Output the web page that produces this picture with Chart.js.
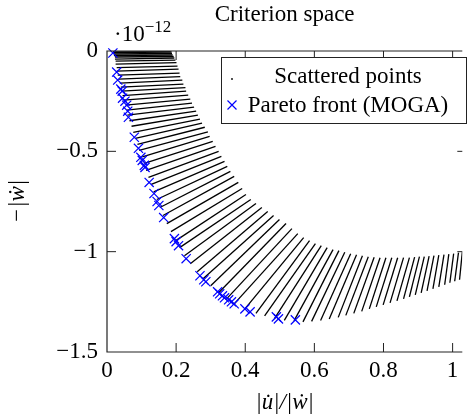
<!DOCTYPE html>
<html>
<head>
<meta charset="utf-8">
<script src="https://cdn.jsdelivr.net/npm/chart.js@4.4.1/dist/chart.umd.min.js"></script>
<style>
  html, body { margin: 0; padding: 0; background: #fff; }
</style>
</head>
<body>
<canvas id="chart" width="470" height="417"></canvas>
<script>
// axis ticks
const xTicks = [0, 0.2, 0.4, 0.6, 0.8, 1];
const xTickLabels = ['0', '0.2', '0.4', '0.6', '0.8', '1'];
const yTicks = [-1.5, -1, -0.5, 0];
const yTickLabels = ['\u22121.5', '\u22121', '\u22120.5', '0'];

// scattered points: each run of points read as a segment (start -> end)
const lineStartX = [0.017, 0.017, 0.020, 0.020, 0.023, 0.023, 0.025, 0.025, 0.028, 0.028,
  0.031, 0.034, 0.037, 0.040, 0.042, 0.045, 0.048, 0.054, 0.057, 0.059,
  0.065, 0.071, 0.076, 0.082, 0.088, 0.093, 0.102, 0.108, 0.113, 0.120,
  0.128, 0.135, 0.144, 0.153, 0.162, 0.173, 0.185, 0.199, 0.210, 0.224,
  0.241, 0.261, 0.278, 0.300, 0.323, 0.346, 0.368, 0.399, 0.431, 0.456,
  0.484, 0.513, 0.541, 0.567, 0.592, 0.618, 0.643, 0.669, 0.691, 0.714,
  0.737, 0.759, 0.779, 0.799, 0.819, 0.839, 0.858, 0.875, 0.892, 0.909,
  0.926, 0.943, 0.960, 0.977, 0.992, 1.006, 1.020];
const lineStartY = [0, -0.0075, -0.015, -0.0225, -0.03, -0.04, -0.05, -0.065, -0.0825, -0.10,
  -0.12, -0.14, -0.16, -0.18, -0.20, -0.2225, -0.245, -0.27, -0.295, -0.32,
  -0.3475, -0.375, -0.405, -0.435, -0.465, -0.495, -0.5275, -0.56, -0.595, -0.63,
  -0.665, -0.7025, -0.74, -0.78, -0.82, -0.86, -0.90, -0.945, -0.98, -1.02,
  -1.06, -1.10, -1.135, -1.17, -1.205, -1.235, -1.26, -1.285, -1.3075, -1.32,
  -1.335, -1.3425, -1.345, -1.35, -1.3475, -1.3425, -1.335, -1.3275, -1.3175, -1.3075,
  -1.2975, -1.285, -1.275, -1.265, -1.255, -1.245, -1.235, -1.225, -1.215, -1.205,
  -1.195, -1.185, -1.175, -1.165, -1.155, -1.1475, -1.14];
const lineEndX = [0.184, 0.187, 0.188, 0.190, 0.193, 0.195, 0.198, 0.201, 0.204, 0.207,
  0.210, 0.212, 0.218, 0.221, 0.227, 0.229, 0.235, 0.241, 0.246, 0.252,
  0.258, 0.263, 0.269, 0.275, 0.283, 0.292, 0.297, 0.306, 0.314, 0.323,
  0.331, 0.340, 0.348, 0.357, 0.368, 0.380, 0.391, 0.402, 0.416, 0.431,
  0.448, 0.465, 0.482, 0.499, 0.518, 0.535, 0.552, 0.569, 0.586, 0.603,
  0.620, 0.637, 0.654, 0.671, 0.688, 0.705, 0.722, 0.739, 0.756, 0.773,
  0.790, 0.807, 0.824, 0.841, 0.858, 0.875, 0.890, 0.904, 0.918, 0.932,
  0.946, 0.960, 0.975, 0.989, 1.003, 1.017, 1.028];
const lineEndY = [0, -0.005, -0.0125, -0.02, -0.0275, -0.035, -0.045, -0.0575, -0.075, -0.09,
  -0.11, -0.1275, -0.145, -0.165, -0.1825, -0.20, -0.22, -0.24, -0.26, -0.28,
  -0.30, -0.32, -0.34, -0.36, -0.38, -0.4025, -0.425, -0.45, -0.475, -0.50,
  -0.525, -0.55, -0.575, -0.60, -0.625, -0.655, -0.685, -0.715, -0.74, -0.76,
  -0.78, -0.80, -0.82, -0.84, -0.86, -0.885, -0.91, -0.93, -0.945, -0.96,
  -0.97, -0.98, -0.99, -0.995, -1.0025, -1.01, -1.015, -1.02, -1.025, -1.0275,
  -1.03, -1.03, -1.03, -1.03, -1.03, -1.03, -1.0275, -1.025, -1.025, -1.0225,
  -1.02, -1.0175, -1.015, -1.0125, -1.01, -1.005, -1.0025];

// Pareto front (MOGA)
const paretoX = [0.017, 0.028, 0.031, 0.040, 0.044, 0.045, 0.052, 0.057, 0.060, 0.062,
  0.079, 0.091, 0.098, 0.102, 0.108, 0.110, 0.122, 0.136, 0.145, 0.150,
  0.164, 0.195, 0.200, 0.207, 0.229, 0.269, 0.280, 0.286, 0.320, 0.326,
  0.334, 0.340, 0.352, 0.360, 0.368, 0.399, 0.414, 0.490, 0.496, 0.545];
const paretoY = [-0.01, -0.105, -0.145, -0.19, -0.20, -0.235, -0.25, -0.27, -0.30, -0.33,
  -0.43, -0.485, -0.53, -0.545, -0.57, -0.58, -0.655, -0.71, -0.75, -0.77,
  -0.83, -0.935, -0.95, -0.97, -1.035, -1.12, -1.14, -1.15, -1.20, -1.21,
  -1.22, -1.23, -1.24, -1.25, -1.26, -1.285, -1.30, -1.325, -1.335, -1.34];

const FONT = "'Liberation Serif', 'Times New Roman', serif";
const BLUE = '#0000ff';

const datasets = [{
  label: 'Pareto front (MOGA)',
  data: paretoX.map((x, i) => ({ x, y: paretoY[i] })),
  showLine: false,
  pointStyle: 'crossRot',
  pointRadius: 6.5,
  borderColor: BLUE,
  backgroundColor: BLUE,
  pointBorderWidth: 1.2,
  clip: false
}];
lineStartX.forEach((x, i) => {
  datasets.push({
    label: 'Scattered points',
    data: [{ x, y: lineStartY[i] }, { x: lineEndX[i], y: lineEndY[i] }],
    showLine: true,
    borderColor: '#000',
    borderWidth: 1.3,
    pointRadius: 0
  });
});

// frame, inward ticks, legend box and the 10^-12 factor
const decorations = {
  id: 'decorations',
  afterDraw(chart) {
    const { ctx, chartArea: a, scales: { x, y } } = chart;
    ctx.save();
    ctx.strokeStyle = '#222';
    ctx.lineWidth = 1.2;
    ctx.beginPath();
    ctx.moveTo(a.right, a.top);
    ctx.lineTo(a.left, a.top);
    ctx.lineTo(a.left, a.bottom);
    ctx.lineTo(a.right, a.bottom);
    ctx.stroke();

    ctx.lineWidth = 1;
    ctx.beginPath();
    xTicks.slice(1).forEach(v => {
      const px = x.getPixelForValue(v);
      ctx.moveTo(px, a.bottom); ctx.lineTo(px, a.bottom - 9);
      ctx.moveTo(px, a.top); ctx.lineTo(px, a.top + 9);
    });
    yTicks.slice(1, -1).forEach(v => {
      const py = y.getPixelForValue(v);
      ctx.moveTo(a.left, py); ctx.lineTo(a.left + 9, py);
      ctx.moveTo(a.right, py); ctx.lineTo(a.right - 5, py);
    });
    ctx.stroke();

    // legend
    const lx = 221.5, ly = 57.5, lw = 245, lh = 66;
    ctx.fillStyle = '#fff';
    ctx.fillRect(lx, ly, lw, lh);
    ctx.strokeStyle = '#222';
    ctx.strokeRect(lx, ly, lw, lh);
    ctx.fillStyle = '#000';
    ctx.beginPath();
    ctx.arc(232, 79, 0.9, 0, Math.PI * 2);
    ctx.fill();
    ctx.strokeStyle = BLUE;
    ctx.lineWidth = 1.2;
    ctx.beginPath();
    ctx.moveTo(227.5, 100.5); ctx.lineTo(236.5, 109.5);
    ctx.moveTo(236.5, 100.5); ctx.lineTo(227.5, 109.5);
    ctx.stroke();
    ctx.fillStyle = '#000';
    ctx.font = '23px ' + FONT;
    ctx.textAlign = 'center';
    ctx.textBaseline = 'alphabetic';
    ctx.fillText('Scattered points', 348, 82.5);
    ctx.fillText('Pareto front (MOGA)', 348, 112);

    // axis scale factor
    ctx.textAlign = 'left';
    ctx.fillText('\u00b710', a.left + 7, 41);
    const w = ctx.measureText('\u00b710').width;
    ctx.font = '17px ' + FONT;
    ctx.fillText('\u221212', a.left + 7 + w, 32);
    ctx.restore();
  }
};

new Chart(document.getElementById('chart'), {
  type: 'scatter',
  data: { datasets },
  plugins: [decorations],
  options: {
    responsive: false,
    animation: false,
    devicePixelRatio: 1,
    events: [],
    layout: { padding: 0 },
    plugins: {
      legend: { display: false },
      tooltip: { enabled: false },
      title: {
        display: true,
        text: 'Criterion space',
        fullSize: false,
        color: '#000',
        font: { family: FONT, size: 23, weight: 'normal' },
        padding: { top: 1, bottom: 22.4 }
      }
    },
    scales: {
      x: {
        type: 'linear',
        min: 0,
        max: 1.028,
        bounds: 'data',
        grid: { display: false, drawTicks: false, tickLength: 0 },
        border: { display: false },
        afterBuildTicks: s => { s.ticks = xTicks.map(v => ({ value: v })); },
        afterFit: s => { s.height = 65; s.paddingLeft = 0; s.paddingRight = 0; },
        ticks: {
          autoSkip: false,
          maxRotation: 0,
          padding: 5,
          color: '#000',
          font: { family: FONT, size: 23 },
          callback: (v, i) => xTickLabels[i]
        },
        title: {
          display: true,
          text: '|u\u0307|/|\u1e87|',
          color: '#000',
          font: { family: FONT, size: 23, style: 'italic' },
          padding: { top: 0, bottom: 0 }
        }
      },
      y: {
        type: 'linear',
        min: -1.5,
        max: 0,
        bounds: 'data',
        grid: { display: false, drawTicks: false, tickLength: 0 },
        border: { display: false },
        afterBuildTicks: s => { s.ticks = yTicks.map(v => ({ value: v })); },
        afterFit: s => { s.width = 107; s.paddingTop = 0; s.paddingBottom = 0; },
        ticks: {
          autoSkip: false,
          padding: 9,
          color: '#000',
          font: { family: FONT, size: 23 },
          callback: (v, i) => yTickLabels[i]
        },
        title: {
          display: true,
          text: '\u2212|\u1e87|',
          color: '#000',
          font: { family: FONT, size: 23, style: 'italic' },
          padding: { top: 4, bottom: 0 }
        }
      }
    }
  }
});
</script>
</body>
</html>
